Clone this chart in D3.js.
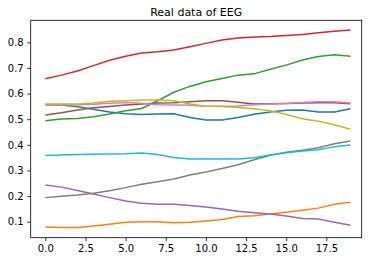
<!DOCTYPE html>
<html lang="en">
<head>
    <meta charset="UTF-8">
    <title>Real data of EEG</title>
    <script src="https://d3js.org/d3.v7.min.js"></script>
    <style>
        body { margin: 0; background: white; }
        svg { display: block; font-family: "DejaVu Sans", sans-serif; }
        .line { fill: none; stroke-width: 1.5; }
        .tick text { font-size: 10px; fill: #000; font-family: "DejaVu Sans", sans-serif; }
        .tick line { stroke: #000; stroke-width: 0.8; }
    </style>
</head>
<body>
    <svg width="372" height="262"></svg>
    <script>
        // 20 time steps, one array per channel
        const steps = d3.range(20);
        const xTicks = [0, 2.5, 5, 7.5, 10, 12.5, 15, 17.5];
        const yTicks = [0.1, 0.2, 0.3, 0.4, 0.5, 0.6, 0.7, 0.8];

        const ch0 = [0.556, 0.555, 0.549, 0.539, 0.528, 0.521, 0.518, 0.520, 0.521, 0.507,
                     0.497, 0.497, 0.507, 0.519, 0.528, 0.535, 0.536, 0.528, 0.528, 0.541];
        const ch1 = [0.079, 0.077, 0.077, 0.083, 0.090, 0.098, 0.100, 0.100, 0.096, 0.098,
                     0.103, 0.109, 0.120, 0.123, 0.130, 0.137, 0.145, 0.153, 0.168, 0.176];
        const ch2 = [0.494, 0.501, 0.503, 0.510, 0.520, 0.533, 0.542, 0.572, 0.605, 0.628,
                     0.646, 0.659, 0.672, 0.677, 0.695, 0.711, 0.731, 0.745, 0.752, 0.746];
        const ch3 = [0.658, 0.672, 0.688, 0.709, 0.730, 0.746, 0.758, 0.763, 0.770, 0.783,
                     0.796, 0.809, 0.817, 0.821, 0.823, 0.827, 0.831, 0.837, 0.843, 0.848];
        const ch4 = [0.243, 0.235, 0.222, 0.208, 0.194, 0.181, 0.172, 0.168, 0.168, 0.163,
                     0.157, 0.150, 0.141, 0.135, 0.130, 0.122, 0.113, 0.111, 0.098, 0.086];
        const ch5 = [0.516, 0.525, 0.536, 0.545, 0.550, 0.555, 0.559, 0.563, 0.564, 0.568,
                     0.572, 0.572, 0.566, 0.559, 0.560, 0.561, 0.563, 0.564, 0.564, 0.560];
        const ch6 = [0.555, 0.555, 0.556, 0.558, 0.562, 0.565, 0.562, 0.556, 0.555, 0.554,
                     0.551, 0.551, 0.552, 0.556, 0.559, 0.561, 0.565, 0.568, 0.568, 0.563];
        const ch7 = [0.194, 0.199, 0.204, 0.211, 0.221, 0.233, 0.246, 0.256, 0.267, 0.282,
                     0.294, 0.308, 0.322, 0.342, 0.359, 0.371, 0.379, 0.389, 0.404, 0.415];
        const ch8 = [0.559, 0.559, 0.559, 0.563, 0.570, 0.572, 0.575, 0.575, 0.572, 0.559,
                     0.551, 0.550, 0.546, 0.541, 0.533, 0.518, 0.502, 0.492, 0.478, 0.461];
        const ch9 = [0.358, 0.360, 0.362, 0.363, 0.364, 0.365, 0.368, 0.362, 0.351, 0.345,
                     0.345, 0.345, 0.345, 0.350, 0.360, 0.369, 0.376, 0.381, 0.393, 0.399];

        const channels = [ch0, ch1, ch2, ch3, ch4, ch5, ch6, ch7, ch8, ch9];
        const colors = d3.schemeCategory10;

        const svg = d3.select("svg");
        const plotLeft = 30.7, plotRight = 361.7, plotTop = 20.3, plotBottom = 237.7;

        const x = d3.scaleLinear()
            .domain([-0.91, 19.7])
            .range([plotLeft, plotRight]);

        const y = d3.scaleLinear()
            .domain([0.0376, 0.886])
            .range([plotBottom, plotTop]);

        const line = d3.line()
            .x((d, i) => x(steps[i]))
            .y(d => y(d));

        svg.selectAll("path.line")
            .data(channels)
            .enter().append("path")
            .attr("class", "line")
            .attr("d", line)
            .attr("stroke", (d, i) => colors[i]);

        const xAxis = svg.append("g")
            .attr("transform", `translate(0,${plotBottom})`)
            .call(d3.axisBottom(x).tickValues(xTicks).tickFormat(d3.format(".1f"))
                .tickSize(3.5).tickPadding(3.5));

        const yAxis = svg.append("g")
            .attr("transform", `translate(${plotLeft},0)`)
            .call(d3.axisLeft(y).tickValues(yTicks).tickFormat(d3.format(".1f"))
                .tickSize(3.5).tickPadding(3.5));

        xAxis.select(".domain").remove();
        yAxis.select(".domain").remove();

        // axes frame
        svg.append("rect")
            .attr("x", plotLeft)
            .attr("y", plotTop)
            .attr("width", plotRight - plotLeft)
            .attr("height", plotBottom - plotTop)
            .attr("fill", "none")
            .attr("stroke", "#000")
            .attr("stroke-width", 0.8);

        svg.append("text")
            .attr("x", (plotLeft + plotRight) / 2)
            .attr("y", plotTop - 4)
            .attr("text-anchor", "middle")
            .attr("font-size", 11)
            .text("Real data of EEG");
    </script>
</body>
</html>
